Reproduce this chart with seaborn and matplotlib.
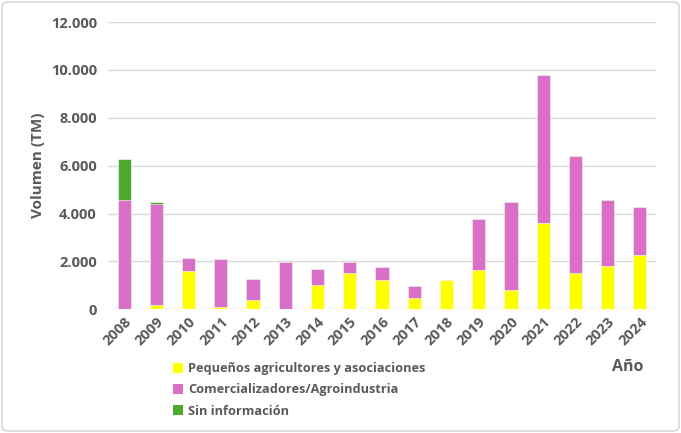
import matplotlib
matplotlib.use("Agg")
import matplotlib.pyplot as plt
import seaborn as sns
import pandas as pd
import numpy as np
from matplotlib.patches import FancyBboxPatch, Patch
from matplotlib.ticker import FuncFormatter

years = ["2008", "2009", "2010", "2011", "2012", "2013", "2014", "2015", "2016",
         "2017", "2018", "2019", "2020", "2021", "2022", "2023", "2024"]
pequenos = [0, 170, 1600, 100, 400, 0, 1010, 1500, 1220, 470, 1220, 1640, 800, 3600, 1500, 1800, 2260]
comercial = [4580, 4230, 525, 1990, 860, 1990, 670, 490, 530, 510, 0, 2140, 3700, 6200, 4890, 2770, 2000]
sin_info = [1710, 70, 0, 0, 0, 0, 0, 0, 0, 0, 0, 0, 0, 0, 0, 0, 0]
series_names = ["Pequeños agricultores y asociaciones", "Comercializadores/Agroindustria", "Sin información"]
colors = ["#FFFF00", "#D870C8", "#4EA72E"]

sns.set_style("white")
plt.rcParams["font.family"] = ["Open Sans", "DejaVu Sans"]

df = pd.DataFrame({"year": years, "p": pequenos, "c": comercial, "s": sin_info})
df["pc"] = df["p"] + df["c"]
df["total"] = df["pc"] + df["s"]

fig = plt.figure(figsize=(6.81, 4.33), dpi=100)
ax = fig.add_axes([108/681, 1-309.3/433, 548/681, (309.3-22)/433])

gray = "#595959"
for col, color in [("total", colors[2]), ("pc", colors[1]), ("p", colors[0])]:
    sns.barplot(data=df, x="year", y=col, color=color, width=0.41, ax=ax,
                saturation=1, edgecolor="white", linewidth=0.4, order=years)

ax.set_ylim(0, 12000)
ax.set_xlim(-0.5, 16.5)
ax.set_yticks(np.arange(0, 12001, 2000))
ax.yaxis.set_major_formatter(FuncFormatter(lambda v, p: f"{int(v):,}".replace(",", ".")))
ax.grid(axis="y", color="#d9d9d9", linewidth=1)
ax.set_axisbelow(True)
for s in ax.spines.values():
    s.set_visible(False)
ax.tick_params(axis="both", length=0, colors=gray)
ax.tick_params(axis="y", pad=8)
for lab in ax.get_yticklabels():
    lab.set_fontweight("bold")
    lab.set_fontsize(10.5)
ax.set_xticks(range(len(years)))
ax.set_xticklabels(years, rotation=45, ha="right", rotation_mode="anchor",
                   fontweight="bold", fontsize=10.5, color=gray)
ax.tick_params(axis="x", pad=4)
ax.set_xlabel("")
ax.set_ylabel("Volumen (TM)", fontsize=11, fontweight="bold", color=gray, labelpad=4)

handles = [Patch(facecolor=c, edgecolor="none") for c in colors]
leg = fig.legend(handles, series_names, loc="upper left", bbox_to_anchor=(168/681, 1-357/433),
                 frameon=False, fontsize=9.2, handlelength=0.8, handleheight=0.8,
                 handletextpad=0.4, labelspacing=0.65, borderaxespad=0)
for t in leg.get_texts():
    t.set_color(gray)
    t.set_fontweight("bold")

fig.text(612/681, 1-367/433, "Año", fontsize=11.5, fontweight="bold", color=gray, va="center")

border = FancyBboxPatch((2/681, 2/433), 677/681, 429/433, boxstyle="round,pad=0,rounding_size=0.01",
                        transform=fig.transFigure, facecolor="none", edgecolor="#d0d0d0", linewidth=1)
fig.patches.append(border)

fig.savefig("out.png", dpi=100)
